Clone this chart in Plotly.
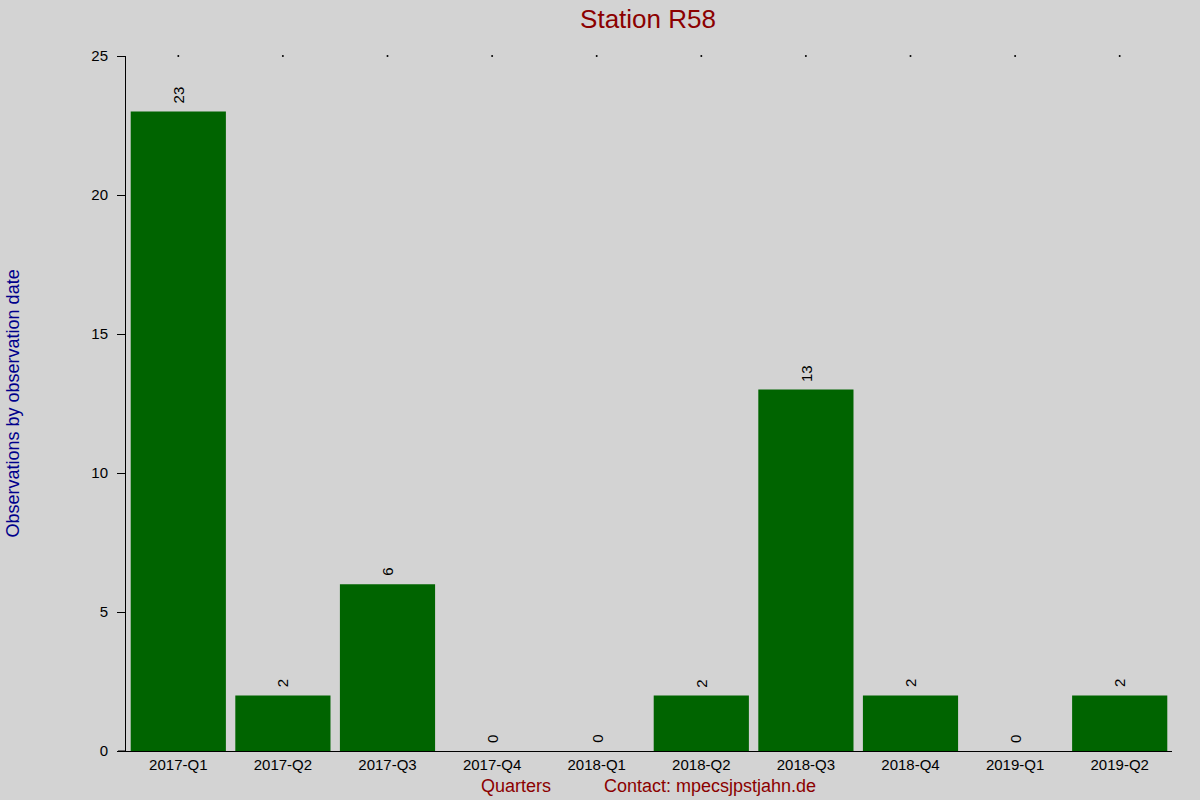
import plotly.graph_objects as go

quarters = ["2017-Q1", "2017-Q2", "2017-Q3", "2017-Q4", "2018-Q1",
            "2018-Q2", "2018-Q3", "2018-Q4", "2019-Q1", "2019-Q2"]
counts = [23, 2, 6, 0, 0, 2, 13, 2, 0, 2]
top_marks = [25] * len(quarters)

BG = "#d3d3d3"
FONT = "Liberation Sans, Arial, sans-serif"

fig = go.Figure()
fig.add_trace(go.Bar(
    x=quarters, y=counts,
    marker=dict(color="#006400", line=dict(width=0)),
    width=0.91,
    hoverinfo="x+y",
))
fig.add_trace(go.Scatter(
    x=quarters, y=top_marks, mode="markers",
    marker=dict(size=2, color="black"),
    hoverinfo="skip", cliponaxis=False,
))

# value labels above bars, rotated
labels = [dict(x=q, y=c, text=str(c), textangle=-90, xref="x", yref="y",
               xanchor="center", yanchor="bottom", yshift=6, showarrow=False,
               font=dict(size=15, color="black", family=FONT))
          for q, c in zip(quarters, counts)]

fig.update_layout(
    width=1200, height=800,
    paper_bgcolor=BG, plot_bgcolor=BG,
    showlegend=False,
    margin=dict(l=126, r=28, t=56, b=49),
    font=dict(family=FONT, size=15, color="black"),
    title=dict(text="Station R58", x=0.54, xanchor="center", y=0.977, yanchor="middle",
               font=dict(size=26, color="#8b0000", family=FONT)),
    xaxis=dict(showline=True, linecolor="black", linewidth=1, ticks="",
               showgrid=False, zeroline=False, tickfont=dict(size=15),
               range=[-0.5, 9.5]),
    yaxis=dict(range=[0, 25], showline=True, linecolor="black", linewidth=1,
               ticks="outside", ticklen=8, tickcolor="black", dtick=5,
               ticklabelstandoff=6,
               showgrid=False, zeroline=False, tickfont=dict(size=15)),
    shapes=[dict(type="line", xref="paper", yref="paper",
                 x0=-8 / 1046, x1=0, y0=0, y1=0,
                 line=dict(color="black", width=1))],
    annotations=labels + [
        dict(text="Observations by observation date", textangle=-90,
             xref="paper", yref="paper", x=-114 / 1046, y=0.5,
             xanchor="center", yanchor="middle", showarrow=False,
             font=dict(size=18, color="#00008b", family=FONT)),
        dict(text="Quarters", xref="paper", yref="paper",
             x=(516 - 126) / 1046, y=-35 / 695, xanchor="center", yanchor="middle",
             showarrow=False, font=dict(size=18, color="#8b0000", family=FONT)),
        dict(text="Contact: mpecsjpstjahn.de", xref="paper", yref="paper",
             x=(710 - 126) / 1046, y=-35 / 695, xanchor="center", yanchor="middle",
             showarrow=False, font=dict(size=18, color="#8b0000", family=FONT)),
    ],
)

fig.write_html("out.html", config={"displayModeBar": False},
               post_script="document.body.style.margin='0';")
